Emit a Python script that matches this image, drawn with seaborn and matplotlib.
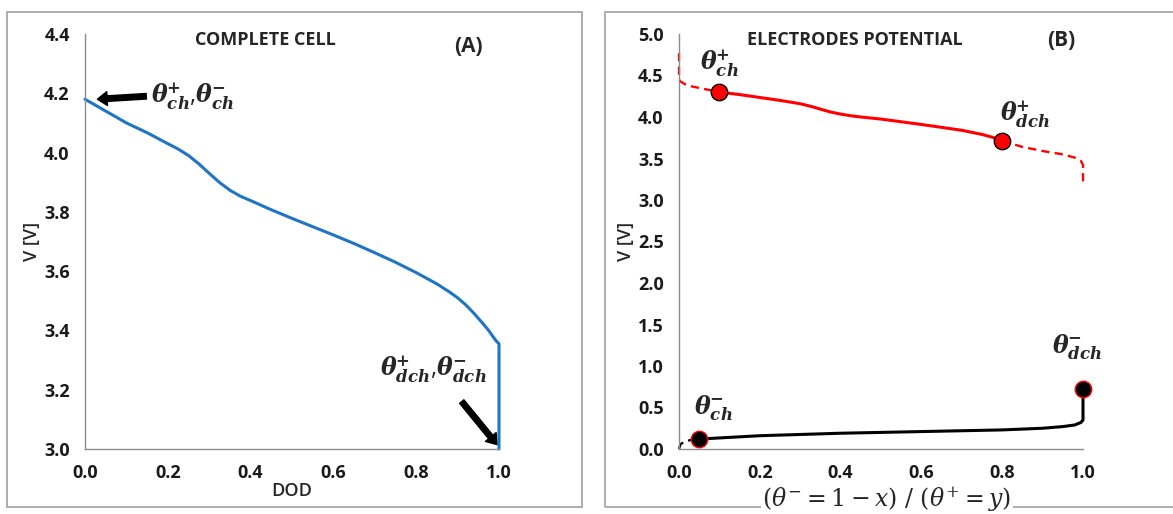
import numpy as np
import pandas as pd
import matplotlib
matplotlib.use("Agg")
import matplotlib.pyplot as plt
from matplotlib.patches import Rectangle
import seaborn as sns

# ---- data: panel A (complete cell) ----
dod = [0.0, 0.05, 0.1, 0.15, 0.2, 0.225, 0.25, 0.275, 0.3, 0.325, 0.35, 0.375, 0.4,
       0.45, 0.5, 0.55, 0.6, 0.65, 0.7, 0.75, 0.8, 0.85, 0.88, 0.9, 0.92, 0.94, 0.96,
       0.975, 0.985, 0.993, 1.0, 1.0]
v_cell = [4.18, 4.14, 4.10, 4.067, 4.03, 4.012, 3.99, 3.962, 3.93, 3.899, 3.873,
          3.853, 3.838, 3.807, 3.778, 3.75, 3.722, 3.693, 3.662, 3.63, 3.595, 3.557,
          3.53, 3.51, 3.486, 3.457, 3.425, 3.40, 3.38, 3.365, 3.355, 3.0]

# ---- data: panel B (electrode potentials) ----
pos_x_solid = [0.1, 0.15, 0.2, 0.25, 0.3, 0.325, 0.35, 0.375, 0.4, 0.425, 0.45, 0.5,
               0.6, 0.7, 0.75, 0.78, 0.8]
pos_v_solid = [4.30, 4.27, 4.235, 4.20, 4.16, 4.13, 4.095, 4.06, 4.035, 4.015, 4.0,
               3.975, 3.91, 3.84, 3.79, 3.75, 3.71]
pos_x_dash_lo = [0.0, 0.0, 0.003, 0.02, 0.05, 0.08, 0.1]
pos_v_dash_lo = [4.77, 4.46, 4.43, 4.38, 4.35, 4.32, 4.30]
pos_x_dash_hi = [0.8, 0.85, 0.9, 0.95, 0.98, 0.995, 1.0, 1.0]
pos_v_dash_hi = [3.71, 3.64, 3.59, 3.55, 3.51, 3.47, 3.42, 3.18]

neg_x_solid = [0.05, 0.2, 0.4, 0.6, 0.8, 0.9, 0.95, 0.98, 0.995, 1.0, 1.0]
neg_v_solid = [0.12, 0.16, 0.19, 0.21, 0.23, 0.25, 0.27, 0.29, 0.32, 0.35, 0.72]
neg_x_dash = [0.0, 0.004, 0.015, 0.03, 0.05]
neg_v_dash = [0.0, 0.06, 0.09, 0.11, 0.12]

pos_pts_x = [0.1, 0.8]
pos_pts_v = [4.30, 3.71]
neg_pts_x = [0.05, 1.0]
neg_pts_v = [0.12, 0.72]

sns.set_style("white")
plt.rcParams['font.family'] = ['Open Sans', 'DejaVu Sans']
plt.rcParams['mathtext.fontset'] = 'custom'
plt.rcParams['mathtext.rm'] = 'DejaVu Serif'
plt.rcParams['mathtext.it'] = 'DejaVu Serif:italic'
plt.rcParams['mathtext.bf'] = 'DejaVu Serif:bold'
plt.rcParams['mathtext.bfit'] = 'DejaVu Serif:italic:bold'

W, H = 1173, 514
fig = plt.figure(figsize=(W / 100, H / 100), dpi=100)


def px_axes(x0, y0, x1, y1):
    return fig.add_axes([x0 / W, 1 - y1 / H, (x1 - x0) / W, (y1 - y0) / H])


# panel frames
fig.patches.append(Rectangle((7 / W, 1 - 507 / H), (582 - 7) / W, (507 - 12) / H,
                             transform=fig.transFigure, fill=False,
                             edgecolor='#a0a0a0', lw=1.2, zorder=0))
fig.patches.append(Rectangle((605 / W, 1 - 507 / H), (1180 - 605) / W, (507 - 12) / H,
                             transform=fig.transFigure, fill=False,
                             edgecolor='#a0a0a0', lw=1.2, zorder=0))

axA = px_axes(85, 34, 499, 449)
axB = px_axes(679, 34, 1083, 449)


def style_axes(ax, xt, yt):
    ax.set_xticks(xt)
    ax.set_yticks(yt)
    ax.set_xticklabels([f"{t:.1f}" for t in xt], fontweight='bold', fontsize=13)
    ax.set_yticklabels([f"{t:.1f}" for t in yt], fontweight='bold', fontsize=13)
    for s in ['top', 'right']:
        ax.spines[s].set_visible(False)
    for s in ['left', 'bottom']:
        ax.spines[s].set_color('#8c8c8c')
        ax.spines[s].set_linewidth(1.0)
    ax.tick_params(direction='out', length=5, width=1, color='#8c8c8c',
                   labelcolor='#1a1a1a', pad=6)
    ax.patch.set_alpha(0)
    for ln in ax.lines:
        ln.set_clip_on(False)
    for c in ax.collections:
        c.set_clip_on(False)


# ---- panel A ----
dfA = pd.DataFrame({'DOD': dod, 'V': v_cell})
sns.lineplot(data=dfA, x='DOD', y='V', ax=axA, sort=False, estimator=None,
             color='#1f74c6', lw=2.2)
axA.set_xlim(0, 1.0)
axA.set_ylim(3.0, 4.4)
style_axes(axA, np.arange(0, 1.01, 0.2), np.arange(3.0, 4.41, 0.2))
axA.set_xlabel('DOD', fontsize=13, fontweight='semibold', labelpad=0)
axA.set_ylabel('V [V]', fontsize=13, fontweight='semibold', labelpad=2)
axA.text(0.435, 0.985, 'COMPLETE CELL', transform=axA.transAxes, ha='center',
         va='center', fontsize=13, fontweight='bold')
axA.text(0.925, 0.97, '(A)', transform=axA.transAxes, ha='center',
         va='center', fontsize=15, fontweight='bold')

arrow = dict(facecolor='black', edgecolor='black', width=4, headwidth=10, headlength=7,
             shrink=0)
axA.annotate('', xy=(0.03, 4.18), xytext=(0.148, 4.19), arrowprops=arrow)
axA.text(0.16, 4.19, r'$\mathbfit{\theta^{+}_{ch}}$,$\mathbfit{\theta^{-}_{ch}}$',
         fontsize=17, va='center', ha='left')
axA.annotate('', xy=(0.995, 3.015), xytext=(0.91, 3.16), arrowprops=arrow)
axA.text(0.97, 3.27, r'$\mathbfit{\theta^{+}_{dch}}$,$\mathbfit{\theta^{-}_{dch}}$',
         fontsize=17, va='center', ha='right')

# ---- panel B ----
red = '#ff0000'
dash = (0, (3.5, 2.2))
sns.lineplot(x=pos_x_solid, y=pos_v_solid, ax=axB, sort=False, estimator=None,
             color=red, lw=2.2)
sns.lineplot(x=pos_x_dash_lo, y=pos_v_dash_lo, ax=axB, sort=False, estimator=None,
             color=red, lw=1.7, linestyle=dash)
sns.lineplot(x=pos_x_dash_hi, y=pos_v_dash_hi, ax=axB, sort=False, estimator=None,
             color=red, lw=1.7, linestyle=dash)
sns.lineplot(x=neg_x_solid, y=neg_v_solid, ax=axB, sort=False, estimator=None,
             color='black', lw=2.2)
sns.lineplot(x=neg_x_dash, y=neg_v_dash, ax=axB, sort=False, estimator=None,
             color='black', lw=1.7, linestyle=dash)
sns.scatterplot(x=pos_pts_x, y=pos_pts_v, ax=axB, s=140, color=red,
                edgecolor='black', linewidth=1, zorder=5)
sns.scatterplot(x=neg_pts_x, y=neg_pts_v, ax=axB, s=140, color='black',
                edgecolor=red, linewidth=1, zorder=5)
axB.set_xlim(0, 1.0)
axB.set_ylim(0, 5.0)
style_axes(axB, np.arange(0, 1.01, 0.2), np.arange(0, 5.01, 0.5))
axB.set_xlabel('')
axB.set_ylabel('V [V]', fontsize=13, fontweight='semibold', labelpad=2)
axB.text(0.435, 0.985, 'ELECTRODES POTENTIAL', transform=axB.transAxes, ha='center',
         va='center', fontsize=13, fontweight='bold')
axB.text(0.945, 0.985, '(B)', transform=axB.transAxes, ha='center',
         va='center', fontsize=15, fontweight='bold')

axB.text(0.10, 4.65, r'$\mathbfit{\theta^{+}_{ch}}$', fontsize=17, ha='center', va='center')
axB.text(0.856, 4.03, r'$\mathbfit{\theta^{+}_{dch}}$', fontsize=17, ha='center', va='center')
axB.text(0.085, 0.49, r'$\mathbfit{\theta^{-}_{ch}}$', fontsize=17, ha='center', va='center')
axB.text(0.985, 1.22, r'$\mathbfit{\theta^{-}_{dch}}$', fontsize=17, ha='center', va='center')

fig.text(887 / W, 1 - 499 / H, r'$(\theta^{-} = 1 - x)\ /\ (\theta^{+} = y)$',
         fontsize=17, ha='center', va='center',
         bbox=dict(facecolor='white', edgecolor='none', pad=1))

fig.savefig('out.png', dpi=100, facecolor='white')
